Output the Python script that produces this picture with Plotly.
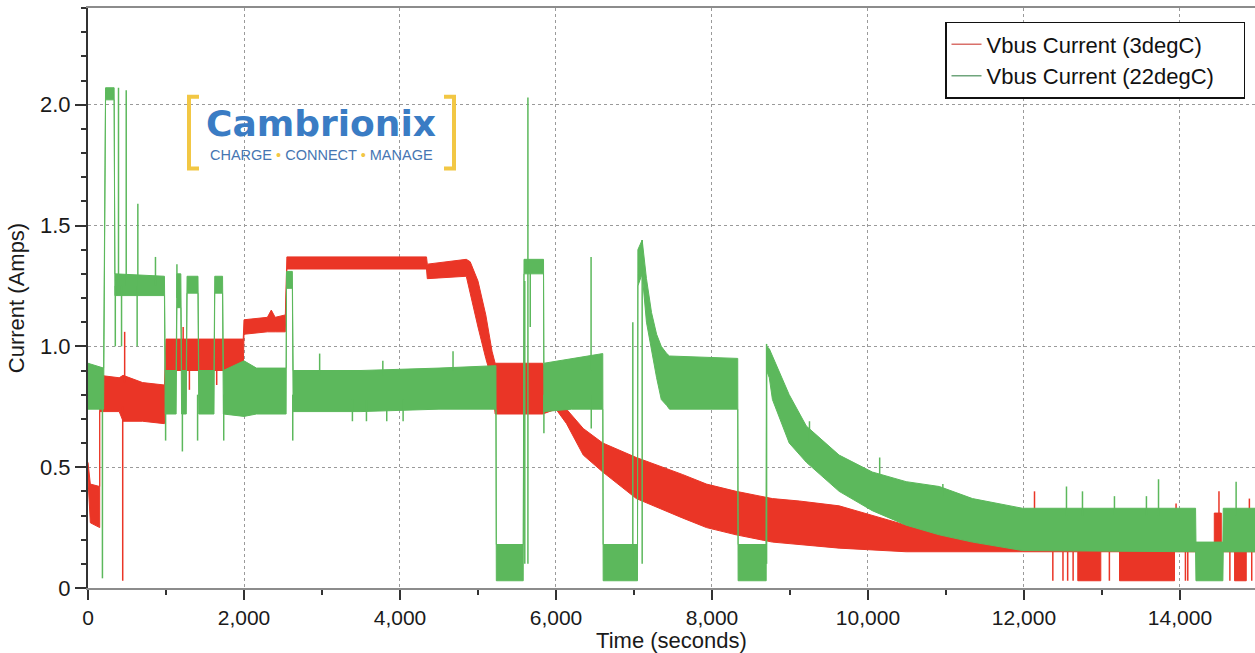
import plotly.graph_objects as go

# ---------------- data ----------------
# Red: Vbus Current (3degC) -- envelope of the noisy band (time s, low A, high A)
red_t  = [0, 30, 150, 150, 400, 450, 700, 980, 1000, 1990, 2000, 2300, 2350, 2400, 2530, 2550,
          4340, 4350, 4850, 4900, 5000, 5100, 5180, 5220, 5830, 6000, 6135, 6350, 6600, 7030,
          7620, 7930, 8310, 8775, 9120, 9630, 10490, 10980, 11170, 11980, 12690, 12690, 12985,
          12985, 13225, 13225, 13930, 13930, 14440, 14440, 14530, 14530, 14700, 14700, 14850,
          14850, 14962]
red_lo = [0.45, 0.27, 0.25, 0.73, 0.73, 0.69, 0.69, 0.68, 0.90, 0.90, 1.05, 1.06, 1.06, 1.06, 1.06, 1.32,
          1.32, 1.28, 1.29, 1.22, 1.08, 0.95, 0.86, 0.72, 0.72, 0.74, 0.68, 0.55, 0.48, 0.37,
          0.29, 0.25, 0.22, 0.19, 0.18, 0.165, 0.15, 0.15, 0.15, 0.15, 0.15, 0.03, 0.03,
          0.15, 0.15, 0.03, 0.03, 0.15, 0.15, 0.18, 0.18, 0.15, 0.15, 0.03, 0.03,
          0.15, 0.15]
red_hi = [0.52, 0.43, 0.42, 0.88, 0.87, 0.88, 0.85, 0.84, 1.03, 1.03, 1.11, 1.12, 1.15, 1.12, 1.13, 1.37,
          1.37, 1.34, 1.36, 1.35, 1.27, 1.13, 0.98, 0.93, 0.93, 0.80, 0.74, 0.66, 0.60, 0.54,
          0.47, 0.43, 0.40, 0.37, 0.36, 0.34, 0.26, 0.22, 0.21, 0.17, 0.17, 0.16, 0.16,
          0.17, 0.17, 0.16, 0.16, 0.17, 0.17, 0.31, 0.31, 0.17, 0.17, 0.16, 0.16,
          0.17, 0.17]
# Red single-sample spikes (time, level it leaves from, level reached)
red_spike_t    = [445, 470, 1220, 1300, 1650, 12135, 12370, 12500, 12560, 12630, 13095,
                  13950, 14070, 14100, 14500, 14640, 14890, 14920]
red_spike_base = [0.75, 0.85, 1.00, 0.95, 0.95, 0.17, 0.15, 0.15, 0.15, 0.15, 0.15,
                  0.17, 0.15, 0.15, 0.25, 0.15, 0.17, 0.15]
red_spike_peak = [0.03, 1.06, 1.08, 0.82, 0.84, 0.40, 0.03, 0.03, 0.03, 0.03, 0.03,
                  0.35, 0.03, 0.03, 0.40, 0.03, 0.37, 0.03]

# Green: Vbus Current (22degC)
green_t  = [0, 180, 200, 225, 335, 345, 980, 990, 1130, 1140, 1190, 1200, 1260, 1270, 1410,
            1420, 1615, 1625, 1725, 1735, 2000, 2160, 2540, 2545, 2620, 2630, 3500, 4500,
            5230, 5235, 5580, 5590, 5840, 5845, 6200, 6600, 6605, 7045, 7050, 7105, 7160,
            7225, 7290, 7350, 7420, 7455, 8330, 8335, 8695, 8700, 8735, 8775, 8905, 8990,
            9210, 9630, 10055, 10490, 10915, 11340, 11980, 14200, 14205, 14550, 14555, 14962]
green_lo = [0.74, 0.74, 0.74, 2.02, 2.02, 1.21, 1.21, 0.72, 0.72, 1.16, 1.16, 0.72, 0.72, 1.22, 1.22,
            0.72, 0.72, 1.22, 1.22, 0.72, 0.71, 0.72, 0.72, 1.24, 1.24, 0.73, 0.73, 0.74,
            0.74, 0.03, 0.03, 1.30, 1.30, 0.73, 0.74, 0.74, 0.03, 0.03, 1.25, 1.30, 1.10,
            0.98, 0.87, 0.78, 0.755, 0.74, 0.74, 0.03, 0.03, 0.90, 0.87, 0.78, 0.67, 0.60,
            0.52, 0.40, 0.32, 0.26, 0.22, 0.19, 0.155, 0.15, 0.03, 0.03, 0.15, 0.15]
green_hi = [0.93, 0.91, 0.91, 2.07, 2.07, 1.30, 1.29, 0.90, 0.90, 1.30, 1.30, 0.90, 0.90, 1.29, 1.29,
            0.90, 0.90, 1.29, 1.29, 0.90, 0.94, 0.91, 0.91, 1.31, 1.31, 0.90, 0.90, 0.91,
            0.92, 0.18, 0.18, 1.36, 1.36, 0.93, 0.95, 0.97, 0.18, 0.18, 1.40, 1.44, 1.28,
            1.14, 1.05, 1.00, 0.97, 0.96, 0.95, 0.18, 0.18, 1.00, 0.99, 0.96, 0.87, 0.80,
            0.67, 0.55, 0.48, 0.44, 0.42, 0.37, 0.33, 0.33, 0.19, 0.19, 0.33, 0.33]
green_spike_t    = [185, 350, 391, 430, 490, 630, 639, 865, 995, 1140, 1210, 1405, 1740, 2625,
                    2970, 3390, 3570, 3780, 3830, 4040, 4680, 5600, 5640, 5670, 5845, 6450, 6452,
                    6985, 7105, 8700, 9250, 10150, 10960, 12545, 12750, 13160, 13570, 13725, 14720]
green_spike_base = [0.80, 1.25, 1.25, 1.25, 1.25, 1.25, 1.25, 1.25, 0.80, 1.20, 0.80, 0.80, 0.80, 0.80,
                    0.88, 0.78, 0.78, 0.88, 0.78, 0.78, 0.90, 0.10, 0.10, 1.33, 0.80, 0.90, 0.80,
                    0.10, 0.10, 0.10, 0.60, 0.45, 0.38, 0.30, 0.30, 0.30, 0.30, 0.30, 0.30]
green_spike_peak = [0.04, 1.00, 2.07, 1.00, 2.06, 1.00, 1.59, 1.37, 0.61, 1.34, 0.565, 0.61, 0.61, 0.61,
                    0.97, 0.69, 0.69, 0.94, 0.69, 0.69, 0.98, 1.27, 2.03, 1.08, 0.64, 1.37, 0.66,
                    1.10, 1.44, 1.01, 0.69, 0.54, 0.43, 0.42, 0.40, 0.38, 0.38, 0.45, 0.44]

series_names = ["Vbus Current (3degC)", "Vbus Current (22degC)"]
x_tick_vals = [0, 2000, 4000, 6000, 8000, 10000, 12000, 14000]
y_tick_vals = [0, 0.5, 1.0, 1.5, 2.0]
y_tick_text = ["0", "0.5", "1.0", "1.5", "2.0"]

RED = "#EA3526"
GREEN = "#5CB85C"
FONT = "Liberation Sans, Arial, Helvetica, sans-serif"
FS = 22
TICK_FS = 21


def band(t, lo, hi):
    return list(t) + list(t)[::-1], list(hi) + list(lo)[::-1]


def spikes(ts, base, peak):
    xs, ys = [], []
    for a, b, c in zip(ts, base, peak):
        xs += [a, a, None]
        ys += [b, c, None]
    return xs, ys


fig = go.Figure()

bx, by = band(red_t, red_lo, red_hi)
fig.add_trace(go.Scatter(x=bx, y=by, fill="toself", fillcolor=RED, mode="lines",
                         line=dict(color=RED, width=1), showlegend=False, hoverinfo="skip"))
sx, sy = spikes(red_spike_t, red_spike_base, red_spike_peak)
fig.add_trace(go.Scatter(x=sx, y=sy, mode="lines", line=dict(color=RED, width=1.5),
                         showlegend=False, hoverinfo="skip"))

bx, by = band(green_t, green_lo, green_hi)
fig.add_trace(go.Scatter(x=bx, y=by, fill="toself", fillcolor=GREEN, mode="lines",
                         line=dict(color=GREEN, width=1), showlegend=False, hoverinfo="skip"))
sx, sy = spikes(green_spike_t, green_spike_base, green_spike_peak)
fig.add_trace(go.Scatter(x=sx, y=sy, mode="lines", line=dict(color=GREEN, width=1.5),
                         showlegend=False, hoverinfo="skip"))

# legend entries (trailing no-break spaces give the box its right-hand padding)
PAD = "\u00a0" * 4
fig.add_trace(go.Scatter(x=[None], y=[None], mode="lines", name=series_names[0] + PAD,
                         line=dict(color="#D9706A", width=1.5)))
fig.add_trace(go.Scatter(x=[None], y=[None], mode="lines", name=series_names[1] + PAD,
                         line=dict(color="#6FA57C", width=1.5)))

W, H = 1255, 653
ML, MR, MT, MB = 88, 0, 8, 63
PW, PH = W - ML - MR, H - MT - MB


def px(xp):
    return (xp - ML) / PW


def py(yp):
    return (H - MB - yp) / PH


YEL = "#F2C744"
BLUE = "#3A7CC4"
shapes = []
# logo brackets
shapes.append(dict(type="path", xref="paper", yref="paper",
                   path=f"M {px(199)},{py(97)} L {px(189)},{py(97)} L {px(189)},{py(169)} L {px(199)},{py(169)}",
                   line=dict(color=YEL, width=4)))
shapes.append(dict(type="path", xref="paper", yref="paper",
                   path=f"M {px(444)},{py(97)} L {px(454)},{py(97)} L {px(454)},{py(169)} L {px(444)},{py(169)}",
                   line=dict(color=YEL, width=4)))

annotations = [
    dict(xref="paper", yref="paper", x=px(321), y=py(124), text="<b>Cambrionix</b>",
         showarrow=False, xanchor="center", yanchor="middle",
         font=dict(family="DejaVu Sans, Verdana, sans-serif", size=36, color=BLUE)),
    dict(xref="paper", yref="paper", x=px(321), y=py(156),
         text=f"CHARGE <span style='color:{YEL}'>•</span> CONNECT <span style='color:{YEL}'>•</span> MANAGE",
         showarrow=False, xanchor="center", yanchor="middle",
         font=dict(family="Liberation Sans, Arial, sans-serif", size=14.5, color="#4676B2")),
]

fig.update_layout(
    width=W, height=H,
    margin=dict(l=ML, r=MR, t=MT, b=MB),
    paper_bgcolor="white", plot_bgcolor="white",
    font=dict(family=FONT, size=FS, color="#1a1a1a"),
    shapes=shapes, annotations=annotations,
    legend=dict(x=px(1245), y=py(22), xanchor="right", yanchor="top",
                bgcolor="white", bordercolor="#111", borderwidth=1.5,
                font=dict(family=FONT, size=FS, color="#111"),
                tracegroupgap=0, itemwidth=30),
    xaxis=dict(range=[0, 14962], tickvals=x_tick_vals, tickformat=",d",
               tickfont=dict(size=TICK_FS),
               showgrid=True, gridcolor="#9a9a9a", griddash="dot", gridwidth=1,
               showline=True, linecolor="#8c8c8c", linewidth=2, mirror=True,
               ticks="outside", ticklen=10, tickwidth=2, tickcolor="#333",
               minor=dict(dtick=1000, ticklen=5, tickwidth=1.5, tickcolor="#333", showgrid=False),
               zeroline=False,
               title=dict(text="Time (seconds)", font=dict(size=FS), standoff=8)),
    yaxis=dict(range=[0, 2.4], tickvals=y_tick_vals, ticktext=y_tick_text,
               tickfont=dict(size=TICK_FS + 1),
               showgrid=True, gridcolor="#9a9a9a", griddash="dot", gridwidth=1,
               showline=True, linecolor="#333", linewidth=2,
               ticks="outside", ticklen=11, tickwidth=2, tickcolor="#333",
               minor=dict(dtick=0.1, ticklen=5, tickwidth=1.5, tickcolor="#333", showgrid=False),
               zeroline=False,
               title=dict(text="Current (Amps)", font=dict(size=FS), standoff=9)),
)

fig.write_html("out.html")
